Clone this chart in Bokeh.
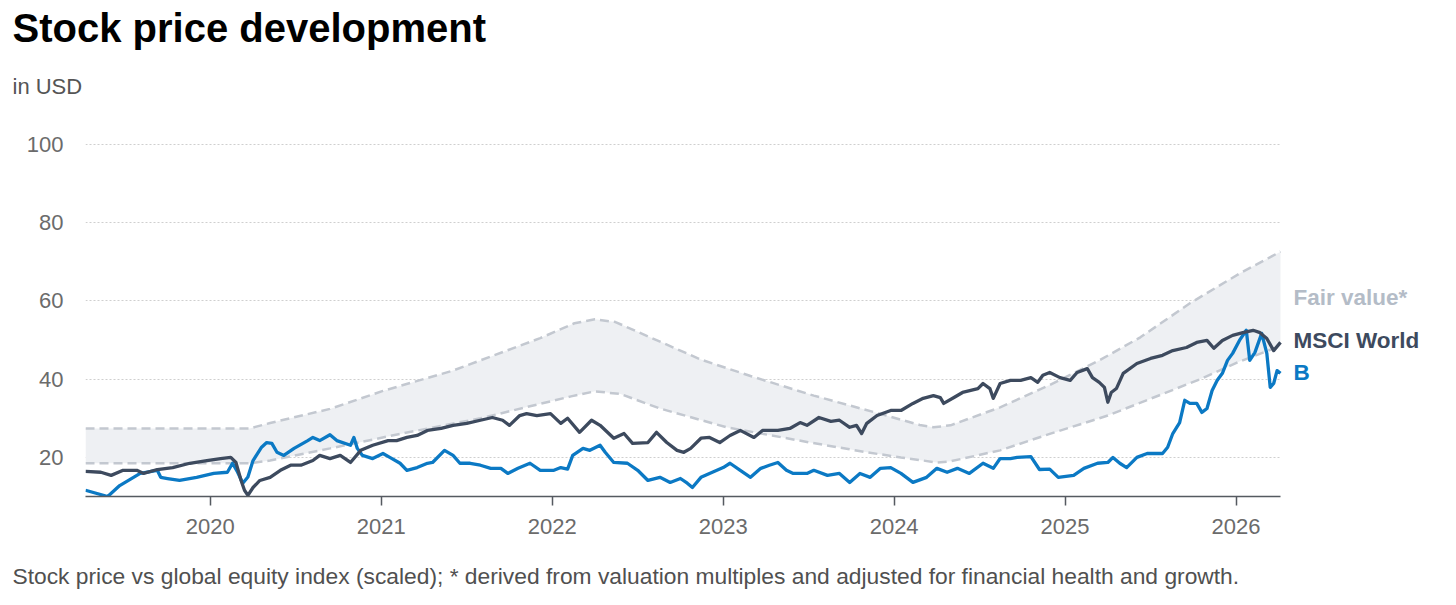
from bokeh.plotting import figure
from bokeh.models import Label, FixedTicker, Range1d, Title
from bokeh.embed import file_html
from bokeh.resources import INLINE

# ---- data (decimal years) ----
b_years = [2019.27, 2019.40, 2019.47, 2019.59, 2019.69, 2019.71, 2019.75, 2019.82, 2019.92, 2020.02,
           2020.10, 2020.13, 2020.16, 2020.19, 2020.22, 2020.25, 2020.30, 2020.33, 2020.36, 2020.39,
           2020.43, 2020.49, 2020.57, 2020.60, 2020.64, 2020.70, 2020.74, 2020.82, 2020.84, 2020.86,
           2020.89, 2020.95, 2021.01, 2021.05, 2021.11, 2021.15, 2021.21, 2021.27, 2021.30, 2021.37,
           2021.42, 2021.46, 2021.52, 2021.58, 2021.64, 2021.70, 2021.74, 2021.80, 2021.87, 2021.93,
           2022.01, 2022.05, 2022.09, 2022.12, 2022.18, 2022.22, 2022.28, 2022.31, 2022.36, 2022.44,
           2022.50, 2022.56, 2022.63, 2022.69, 2022.75, 2022.79, 2022.82, 2022.87, 2022.92, 2023.00,
           2023.04, 2023.10, 2023.16, 2023.22, 2023.27, 2023.32, 2023.37, 2023.41, 2023.49, 2023.53,
           2023.61, 2023.68, 2023.74, 2023.80, 2023.86, 2023.92, 2023.98, 2024.04, 2024.11, 2024.19,
           2024.25, 2024.31, 2024.37, 2024.44, 2024.52, 2024.58, 2024.62, 2024.68, 2024.72, 2024.80,
           2024.85, 2024.91, 2024.96, 2025.05, 2025.11, 2025.19, 2025.25, 2025.28, 2025.32, 2025.36,
           2025.42, 2025.48, 2025.57, 2025.60, 2025.63, 2025.67, 2025.70, 2025.73, 2025.77, 2025.80,
           2025.83, 2025.86, 2025.89, 2025.92, 2025.95, 2025.98, 2026.02, 2026.06, 2026.08, 2026.11,
           2026.15, 2026.18, 2026.20, 2026.22, 2026.24, 2026.26]
b_values = [11.6, 10.0, 12.8, 15.9, 16.7, 14.9, 14.6, 14.1, 14.9, 15.9,
            16.2, 18.5, 16.2, 13.4, 15.0, 19.2, 22.6, 23.8, 23.6, 21.3,
            20.5, 22.3, 24.3, 25.1, 24.3, 25.8, 24.3, 23.1, 25.1, 22.3,
            20.5, 19.7, 21.0, 20.0, 18.5, 16.7, 17.4, 18.5, 18.7, 21.8,
            20.5, 18.5, 18.5, 18.0, 17.2, 17.2, 15.9, 17.2, 18.5, 16.7,
            16.7, 17.4, 17.0, 20.5, 22.3, 21.8, 23.1, 21.3, 18.7, 18.5,
            16.7, 14.1, 14.9, 13.6, 14.6, 13.4, 12.3, 14.9, 15.9, 17.4,
            18.5, 16.7, 14.9, 17.2, 18.0, 18.7, 16.7, 15.9, 15.9, 16.7,
            15.4, 15.9, 13.6, 15.9, 14.9, 17.2, 17.4, 15.9, 13.6, 14.9,
            17.2, 16.2, 17.2, 15.9, 18.5, 17.2, 19.7, 19.7, 20.0, 20.2,
            16.9, 17.0, 14.9, 15.4, 17.2, 18.5, 18.7, 20.0, 18.5, 17.4,
            20.0, 21.0, 21.0, 22.6, 26.1, 28.9, 34.6, 33.8, 33.8, 31.5,
            32.5, 37.1, 39.7, 41.5, 44.8, 46.6, 49.9, 52.5, 44.8, 46.8,
            51.7, 46.6, 37.9, 38.9, 42.2, 41.5]

msci_years = [2019.27, 2019.36, 2019.42, 2019.49, 2019.57, 2019.61, 2019.69, 2019.78, 2019.88, 2019.98,
              2020.06, 2020.12, 2020.15, 2020.18, 2020.20, 2020.22, 2020.25, 2020.29, 2020.35, 2020.41,
              2020.47, 2020.53, 2020.60, 2020.64, 2020.70, 2020.76, 2020.82, 2020.88, 2020.95, 2021.04,
              2021.09, 2021.15, 2021.21, 2021.27, 2021.35, 2021.42, 2021.50, 2021.58, 2021.65, 2021.71,
              2021.75, 2021.81, 2021.85, 2021.91, 2021.99, 2022.05, 2022.09, 2022.16, 2022.23, 2022.28,
              2022.36, 2022.42, 2022.47, 2022.56, 2022.61, 2022.67, 2022.73, 2022.77, 2022.81, 2022.87,
              2022.92, 2022.98, 2023.04, 2023.10, 2023.18, 2023.23, 2023.32, 2023.39, 2023.45, 2023.49,
              2023.56, 2023.63, 2023.68, 2023.74, 2023.78, 2023.81, 2023.84, 2023.90, 2023.98, 2024.04,
              2024.11, 2024.17, 2024.23, 2024.27, 2024.29, 2024.35, 2024.40, 2024.49, 2024.52, 2024.56,
              2024.58, 2024.62, 2024.68, 2024.74, 2024.80, 2024.84, 2024.87, 2024.91, 2024.97, 2025.03,
              2025.07, 2025.13, 2025.16, 2025.20, 2025.23, 2025.25, 2025.27, 2025.30, 2025.34, 2025.42,
              2025.50, 2025.57, 2025.63, 2025.71, 2025.77, 2025.83, 2025.87, 2025.92, 2025.98, 2026.04,
              2026.10, 2026.14, 2026.18, 2026.22, 2026.26]
msci_values = [16.4, 16.2, 15.4, 16.7, 16.7, 15.9, 16.9, 17.4, 18.5, 19.2,
               19.7, 20.0, 18.7, 14.1, 11.6, 10.3, 12.3, 14.1, 14.9, 16.7,
               18.0, 18.0, 19.2, 20.5, 19.7, 20.5, 18.7, 21.8, 23.1, 24.3,
               24.3, 25.1, 25.6, 26.9, 27.4, 28.2, 28.7, 29.5, 30.2, 29.5,
               28.2, 30.7, 31.2, 30.7, 31.2, 28.7, 30.0, 26.4, 29.5, 28.2,
               24.9, 26.1, 23.6, 23.8, 26.4, 23.8, 21.8, 21.3, 22.3, 24.9,
               25.1, 23.8, 25.6, 26.9, 25.1, 26.9, 26.9, 27.4, 28.9, 28.2,
               30.2, 29.2, 29.5, 27.7, 28.2, 26.1, 28.7, 30.7, 32.0, 32.0,
               33.8, 35.1, 35.8, 35.3, 33.8, 35.3, 36.6, 37.6, 38.9, 37.6,
               35.1, 38.9, 39.7, 39.7, 40.4, 39.2, 41.0, 41.7, 40.4, 39.7,
               41.7, 42.7, 40.4, 39.2, 37.9, 34.1, 36.6, 37.6, 41.5, 44.0,
               45.3, 46.1, 47.3, 48.1, 49.4, 49.9, 47.9, 49.9, 51.2, 51.9,
               52.5, 51.9, 50.4, 47.3, 49.4]

fair_upper_years = [2019.27, 2020.23, 2020.35, 2020.70, 2021.01, 2021.42, 2021.58, 2021.93, 2022.13, 2022.25,
                    2022.37, 2022.87, 2023.16, 2023.53, 2023.88, 2024.15, 2024.23, 2024.33, 2024.62, 2024.91,
                    2025.20, 2025.44, 2025.73, 2026.02, 2026.26]
fair_upper_values = [27.4, 27.4, 28.8, 32.4, 37.0, 42.2, 44.8, 50.5, 54.3, 55.3,
                     54.6, 45.0, 40.8, 35.8, 31.6, 28.3, 27.7, 28.2, 32.8, 38.5,
                     44.8, 50.7, 59.4, 67.0, 72.6]
fair_lower_years = [2019.27, 2020.23, 2020.35, 2020.70, 2021.11, 2021.58, 2022.11, 2022.25, 2022.40, 2022.63,
                    2023.02, 2023.51, 2023.84, 2024.04, 2024.25, 2024.33, 2024.62, 2024.91, 2025.25, 2025.50,
                    2025.79, 2026.02, 2026.26]
fair_lower_values = [18.5, 18.5, 19.2, 22.3, 26.0, 30.0, 35.6, 36.9, 36.2, 32.5,
                     27.7, 23.8, 21.3, 20.0, 18.7, 19.0, 21.8, 26.0, 30.7, 35.0,
                     40.0, 44.5, 48.5]

series_names = ["Fair value*", "MSCI World", "B"]
label_values = [60.9, 49.9, 41.7]

year_ticks = [2020, 2021, 2022, 2023, 2024, 2025, 2026]
value_ticks = [20, 40, 60, 80, 100]

FONT = "Liberation Sans"
DARK = "#3d4a5e"
BLUE = "#0b79c4"
FV_LINE = "#c3c8d0"
FV_TEXT = "#b4bcc7"

X0, X1 = 2019.27, 2026.26
PX_PER_YEAR = 1195 / (X1 - X0)
X_END = X0 + 1371 / PX_PER_YEAR

p = figure(frame_width=1371, frame_height=355,
           min_border_left=85, min_border_right=0, min_border_top=140, min_border_bottom=109,
           x_range=Range1d(X0, X_END), y_range=Range1d(10, 100.77),
           output_backend="svg", toolbar_location=None, tools="")
p.outline_line_color = None
p.background_fill_color = "white"
p.border_fill_color = "white"

# fair value band
band_x = fair_upper_years + fair_lower_years[::-1]
band_y = fair_upper_values + fair_lower_values[::-1]
p.patch(band_x, band_y, fill_color="#eef0f3", line_color=None)
p.line(fair_upper_years, fair_upper_values, line_color=FV_LINE, line_width=2.5, line_dash="9 5")
p.line(fair_lower_years, fair_lower_values, line_color=FV_LINE, line_width=2.5, line_dash="9 5")

p.line(b_years, b_values, line_color=BLUE, line_width=3.3, line_join="round")
p.line(msci_years, msci_values, line_color=DARK, line_width=3.3, line_join="round")

# axes
p.xaxis.ticker = FixedTicker(ticks=year_ticks)
p.yaxis.ticker = FixedTicker(ticks=value_ticks)
p.xaxis.bounds = (X0, X1)
p.xgrid.grid_line_color = None
p.ygrid.grid_line_color = "#cfcfcf"
p.ygrid.grid_line_dash = "2 2"
p.ygrid.grid_line_width = 1
try:
    p.ygrid.cross_bounds = (X0, X1)
except Exception:
    pass

p.yaxis.axis_line_color = None
p.yaxis.major_tick_line_color = None
p.yaxis.minor_tick_line_color = None
p.yaxis.major_label_text_font = FONT
p.yaxis.major_label_text_font_size = "22px"
p.yaxis.major_label_text_color = "#6b6b6b"
p.yaxis.major_label_standoff = 16

p.xaxis.axis_line_color = "#555a60"
p.xaxis.axis_line_width = 1.5
p.xaxis.major_tick_line_color = "#555a60"
p.xaxis.major_tick_line_width = 1.5
p.xaxis.major_tick_in = 0
p.xaxis.major_tick_out = 9
p.xaxis.minor_tick_line_color = None
p.xaxis.major_label_text_font = FONT
p.xaxis.major_label_text_font_size = "22px"
p.xaxis.major_label_text_color = "#6b6b6b"
p.xaxis.major_label_standoff = 13

# titles (panels stack outward from the frame; text is centred in each panel)
p.add_layout(Title(text=" ", text_font_size="1px", standoff=9), "below")
footer = Title(text="Stock price vs global equity index (scaled); * derived from valuation multiples and adjusted for financial health and growth.",
               text_font=FONT, text_font_size="22.8px", text_color="#505050", text_font_style="normal",
               align="left", offset=-73, standoff=25)
p.add_layout(footer, "below")

p.add_layout(Title(text=" ", text_font_size="1px", standoff=21), "above")
sub = Title(text="in USD", text_font=FONT, text_font_size="22px", text_color="#555555",
            text_font_style="normal", align="left", offset=-73, standoff=38)
p.add_layout(sub, "above")
ttl = Title(text="Stock price development", text_font=FONT, text_font_size="40px", text_color="#000000",
            text_font_style="bold", align="left", offset=-73, standoff=6)
p.add_layout(ttl, "above")

# right-hand labels
label_x = X1 + 13 / PX_PER_YEAR
for txt, yv, col in zip(series_names, label_values, [FV_TEXT, DARK, BLUE]):
    p.add_layout(Label(x=label_x, y=yv, text=txt, text_font=FONT, text_font_size="22.5px",
                       text_color=col, text_font_style="bold", text_baseline="middle"))

open("out.html", "w").write(file_html(p, INLINE))
